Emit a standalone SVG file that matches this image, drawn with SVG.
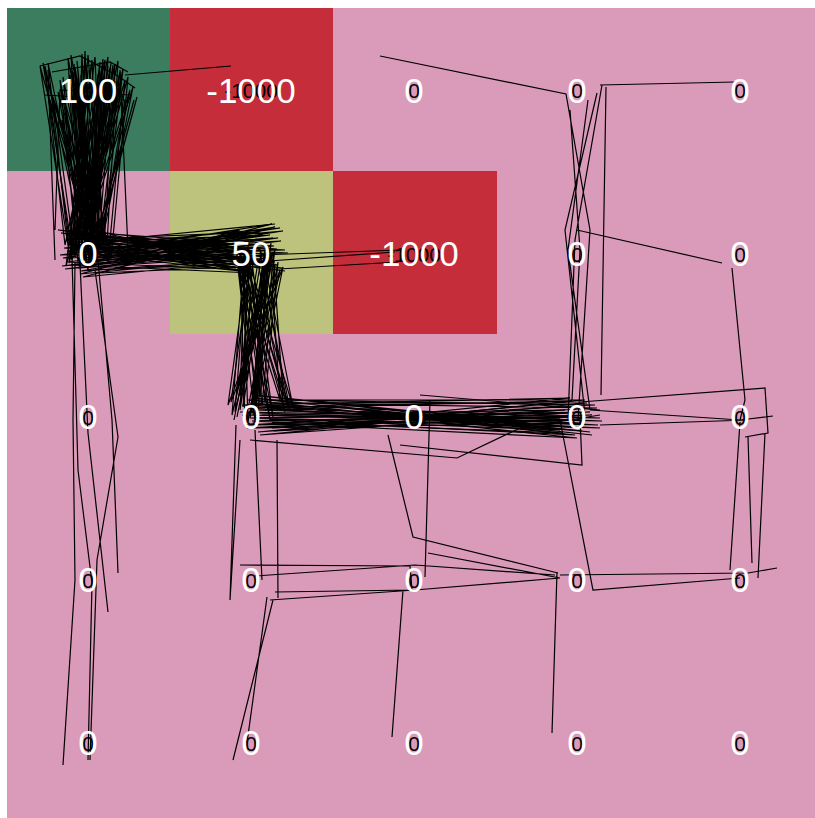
<svg xmlns="http://www.w3.org/2000/svg" width="815" height="818" viewBox="0 0 815 818">
<style>
.w{font-family:"Liberation Sans",Arial,sans-serif;font-size:35px;fill:#ffffff;text-anchor:middle}
.b{font-family:"Liberation Sans",Arial,sans-serif;font-size:21px;fill:#000000;text-anchor:middle}
.t{fill:none;stroke:#000;stroke-width:1.2;stroke-linejoin:miter}
</style>
<defs>
<path id="bA" class="t" d="M88,70 L75,250 L100,62 L90,265 L70,75 L82,240 L110,68 L95,255 L60,80 L78,262 L120,72 L100,240 L85,58 L70,248 L95,85 L88,270 L45,66 L65,245 L105,60 L92,258 L78,78 L84,236 L130,90 L98,250 L50,100 L72,260 L115,64 L104,246 L68,58 L80,268 L98,74 L90,242 L82,54 L76,255 L125,80 L108,262 L58,92 L86,248 L102,70 L94,266 L74,64 L88,240 L112,84 L70,258 L40,66 L92,252 L134,100 L96,240 L62,120 L80,256 L108,66 L86,262 L72,70 L100,248 L92,60 L66,266 L118,88 L84,244"/>
<path id="bB" class="t" d="M75,250 L270,235 L68,262 L250,270 L90,240 L285,250 L60,255 L240,230 L95,270 L275,262 L72,235 L255,245 L85,258 L280,228 L64,248 L245,265 L100,232 L268,255 L78,268 L238,240 L92,245 L282,268 L66,240 L260,232 L88,262 L274,246 L58,230 L248,258 L80,274 L272,224 L96,252 L236,268 L70,244 L264,262 L86,236 L250,250 L62,266 L278,238 L84,250 L242,262"/>
<path id="bC" class="t" d="M250,260 L240,410 L265,250 L255,420 L238,268 L280,400 L270,255 L232,415 L245,248 L262,405 L275,265 L245,425 L240,252 L285,412 L258,262 L236,398 L268,246 L250,418 L280,270 L228,405 L248,258 L270,420 L236,250 L258,400 L262,268 L290,410 L245,262 L240,395 L272,252 L252,412 L266,258 L234,420"/>
<path id="bD" class="t" d="M255,410 L580,420 L245,425 L595,405 L268,400 L560,430 L250,418 L590,412 L272,428 L570,398 L242,405 L598,425 L262,415 L565,410 L258,432 L585,400 L248,400 L575,435 L270,420 L560,418 L240,412 L600,418 L265,405 L580,428 L252,395 L590,432"/>
</defs>
<rect width="815" height="818" fill="#ffffff"/>
<g id="grid">
<rect x="7" y="8" width="815" height="815" fill="#da9ab9"/>
<rect id="cell-0-0" x="7" y="8" width="163" height="163" fill="#3d7d5f"/>
<rect id="cell-0-1" x="170" y="8" width="163" height="163" fill="#c62d3a"/>
<rect id="cell-1-1" x="170" y="171" width="163" height="163" fill="#bdc27c"/>
<rect id="cell-1-2" x="333" y="171" width="164" height="163" fill="#c62d3a"/>
</g>
<g id="labels-black">
<text class="b" x="88" y="98">100</text><text class="b" x="251" y="98">-1000</text><text class="b" x="414" y="98">0</text><text class="b" x="577" y="98">0</text><text class="b" x="740" y="98">0</text>
<text class="b" x="88" y="262">0</text><text class="b" x="251" y="262">50</text><text class="b" x="414" y="262">-1000</text><text class="b" x="577" y="262">0</text><text class="b" x="740" y="262">0</text>
<text class="b" x="88" y="425">0</text><text class="b" x="251" y="425">0</text><text class="b" x="414" y="425">0</text><text class="b" x="577" y="425">0</text><text class="b" x="740" y="425">0</text>
<text class="b" x="88" y="588">0</text><text class="b" x="251" y="588">0</text><text class="b" x="414" y="588">0</text><text class="b" x="577" y="588">0</text><text class="b" x="740" y="588">0</text>
<text class="b" x="88" y="751">0</text><text class="b" x="251" y="751">0</text><text class="b" x="414" y="751">0</text><text class="b" x="577" y="751">0</text><text class="b" x="740" y="751">0</text>
</g>
<g id="trajectories">
<use href="#bA"/>
<use href="#bA" transform="translate(3,-3)"/>
<path class="t" d="M40,66 L80,56 L118,76 L135,88 M52,72 L110,62 L128,72 M125,75 L231,66 M45,95 L125,100 L100,250 M55,230 L60,90 L130,95 M48,70 L55,260 M120,70 L128,250"/>
<path class="t" d="M75,262 L73,420 L75,580 L63,765 M95,270 L118,437 L97,560 L90,760 M80,264 L88,433 L108,612 M98,260 L112,420 L118,573 M72,258 L78,470 L92,583 L88,760"/>
<use href="#bB"/>
<use href="#bB" transform="translate(3,3)"/>
<path class="t" d="M110,240 L275,224 M255,262 L395,252 M262,270 L398,262 M260,255 L400,250"/>
<use href="#bC"/>
<use href="#bC" transform="translate(3,-3)"/>
<use href="#bD"/>
<use href="#bD" transform="translate(2,3)"/>
<path class="t" d="M580,402 L765,388 L768,433 L745,437 M590,410 L740,420 L773,416 M420,395 L600,410 M250,440 L457,458 L520,428 L600,415 M580,418 L582,465 L400,445 M560,420 L593,590 L740,578 M740,422 L730,570 M748,437 L752,563 M765,433 L758,578 M777,568 L748,573 L560,575 M600,425 L748,420"/>
<path class="t" d="M380,56 L566,94 L590,230 L578,420 M600,85 L735,82 M606,87 L601,395 M602,85 L575,240 L568,420 M597,93 L565,230 L585,415 M577,230 L722,263 M570,110 L580,250 L572,400 M588,100 L568,250 L590,410 M732,268 L745,400 L740,420"/>
<path class="t" d="M240,565 L410,566 L412,590 L275,592 M255,576 L415,565 L555,575 M270,600 L415,590 L560,578 M230,600 L240,440 M273,600 L233,760 M267,597 L247,743 M236,425 L230,600 M255,430 L262,580 M277,440 L278,598 M392,737 L403,590 M388,435 L413,537 L558,573 M552,733 L557,572 M430,400 L425,577 M428,553 L560,578"/>
</g>
<g id="labels">
<text class="w" x="88" y="103">100</text><text class="w" x="251" y="103">-1000</text><text class="w" x="414" y="103">0</text><text class="w" x="577" y="103">0</text><text class="w" x="740" y="103">0</text>
<text class="w" x="88" y="266">0</text><text class="w" x="251" y="266">50</text><text class="w" x="414" y="266">-1000</text><text class="w" x="577" y="266">0</text><text class="w" x="740" y="266">0</text>
<text class="w" x="88" y="429">0</text><text class="w" x="251" y="429">0</text><text class="w" x="414" y="429">0</text><text class="w" x="577" y="429">0</text><text class="w" x="740" y="429">0</text>
<text class="w" x="88" y="592">0</text><text class="w" x="251" y="592">0</text><text class="w" x="414" y="592">0</text><text class="w" x="577" y="592">0</text><text class="w" x="740" y="592">0</text>
<text class="w" x="88" y="755">0</text><text class="w" x="251" y="755">0</text><text class="w" x="414" y="755">0</text><text class="w" x="577" y="755">0</text><text class="w" x="740" y="755">0</text>
</g>
</svg>
